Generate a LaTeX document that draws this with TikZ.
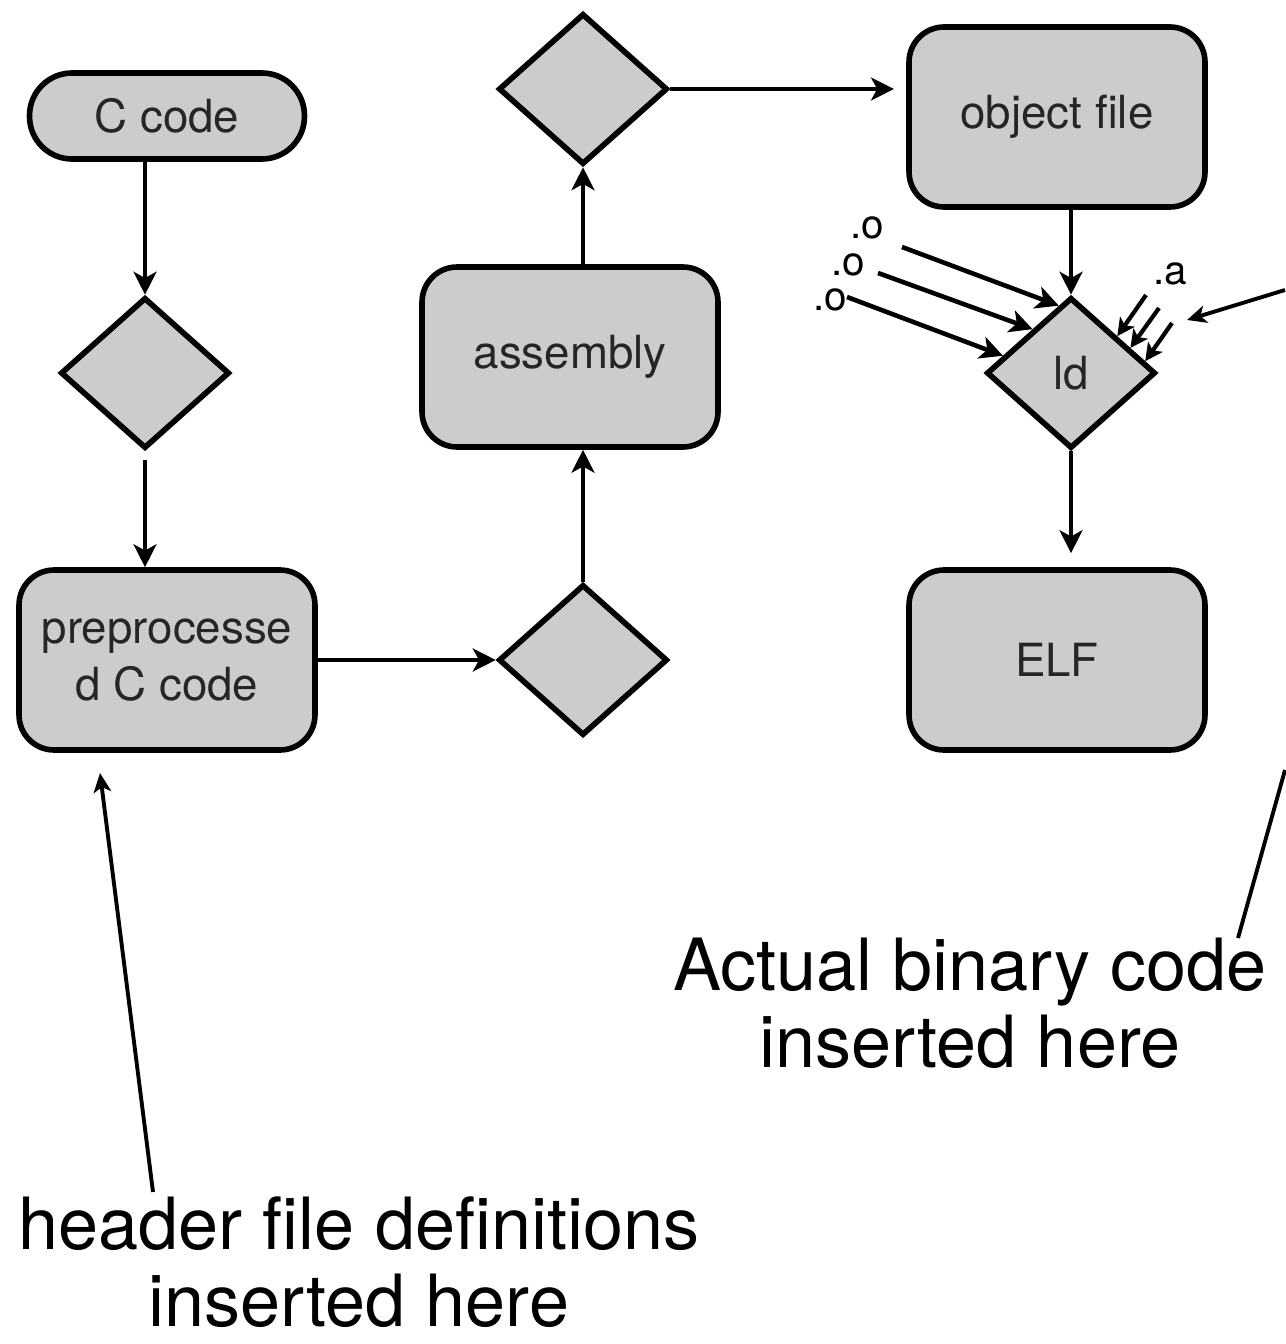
\documentclass[tikz,border=0pt]{standalone}
\usepackage{fontspec}
\setmainfont{TeX Gyre Heros}
\usetikzlibrary{shapes.geometric,arrows.meta,calc}
\definecolor{boxgray}{HTML}{CCCCCC}
\definecolor{inkgray}{HTML}{262626}

\tikzset{
	stepbox/.style={draw, rectangle, rounded corners=0.7cm, fill=boxgray, line width=3.2pt, minimum width=5.92cm, minimum height=3.6cm, align=center, text=inkgray, font=\fontsize{26}{32}\selectfont},
	choice/.style={draw, diamond, fill=boxgray, line width=3.2pt, minimum width=3.38cm, minimum height=3.02cm, inner sep=0pt, text=inkgray, font=\fontsize{26}{32}\selectfont},
	flow/.style={-{Stealth[length=13pt,width=13pt,inset=3.5pt]}, line width=2.6pt},
	feed/.style={-{Stealth[length=10pt,width=10pt,inset=2.5pt]}, line width=2.4pt},
	lead/.style={line width=2.2pt},
	ext/.style={font=\fontsize{23}{26}\selectfont, inner sep=0pt},
	note/.style={align=center, font=\fontsize{41}{44}\selectfont},
}

\begin{document}
\begin{tikzpicture}[x=0.02cm, y=-0.02cm]
				\useasboundingbox (0,0) rectangle (1285,1344);
				
				% C code
				\node[stepbox, rounded corners=0.85cm, minimum width=5.5cm, minimum height=1.72cm] (ccode) at (167,116) {C code};
				
				% preprocessor
				\node[choice] (pp) at (145,373) {};
				
				% preprocessed C code
				\node[stepbox] (prep) at (167,660) {preprocesse\\d C code};
				
				% compiler
				\node[choice] (cc) at (583,660) {};
				
				% assembly
				\node[stepbox] (asm) at (570,357) {assembly};
				
				% assembler
				\node[choice] (as) at (583,89) {};
				
				% object file
				\node[stepbox] (obj) at (1057,117) {object file};
				
				% linker
				\node[choice] (ld) at (1071,373) {ld};
				
				% ELF
				\node[stepbox] (elf) at (1057,660) {ELF};
				
				% main flow
				\draw[flow] (pp.north |- ccode.south) -- (pp.north);
				\draw[flow, shorten <=5pt] (pp.south) -- (pp.south |- prep.north);
				\draw[flow] (prep.east |- cc.west) -- (cc.west);
				\draw[flow] (cc.north) -- (cc.north |- asm.south);
				\draw[flow] (as.south |- asm.north) -- (as.south);
				\draw[flow, shorten >=7pt] (as.east) -- (as.east -| obj.west);
				\draw[flow] (ld.north |- obj.south) -- (ld.north);
				\draw[flow, shorten >=8pt] (ld.south) -- (ld.south |- elf.north);
				
				% .o inputs
				\node[ext] (o1) at (867,228) {.o};
				\node[ext] (o2) at (848,265) {.o};
				\node[ext] (o3) at (830,300) {.o};
				\coordinate (o1s) at (902,247);
				\coordinate (o2s) at (878,273);
				\coordinate (o3s) at (847,297);
				\draw[flow] (o1s) -- ($(ld.west)!0.86!(ld.north)$);
				\draw[flow] (o2s) -- ($(ld.west)!0.56!(ld.north)$);
				\draw[flow] (o3s) -- ($(ld.west)!0.22!(ld.north)$);
				
				% .a inputs
				\node[ext] (a1) at (1170,274) {.a};
				\coordinate (a1s) at (1146,295);
				\coordinate (a2s) at (1159,308);
				\coordinate (a3s) at (1172,323);
				\draw[feed] (a1s) -- ($(ld.north)!0.53!(ld.east)$);
				\draw[feed] (a2s) -- ($(ld.north)!0.68!(ld.east)$);
				\draw[feed] (a3s) -- ($(ld.north)!0.85!(ld.east)$);
				
				% binary code
				\node[note] (bin) at (970,1003) {Actual binary code\\inserted here};
				\coordinate (binin) at (1285,290);
				\coordinate (bintip) at (1187,320);
				\coordinate (binfoot) at (1238,938);
				\coordinate (binup) at (1285,770);
				\draw[lead, -{Stealth[length=11pt,width=10pt,inset=3pt]}] (binin) -- (bintip);
				\draw[lead] (binfoot) -- (binup);
				
				% header files
				\node[note] (hdr) at (359,1262) {header file definitions\\inserted here};
				\coordinate (hdrfoot) at (153,1192);
				\coordinate (hdrtip) at (100,773);
				\draw[lead, -{Stealth[length=11pt,width=10pt,inset=3pt]}] (hdrfoot) -- (hdrtip);
			\end{tikzpicture}
\end{document}
